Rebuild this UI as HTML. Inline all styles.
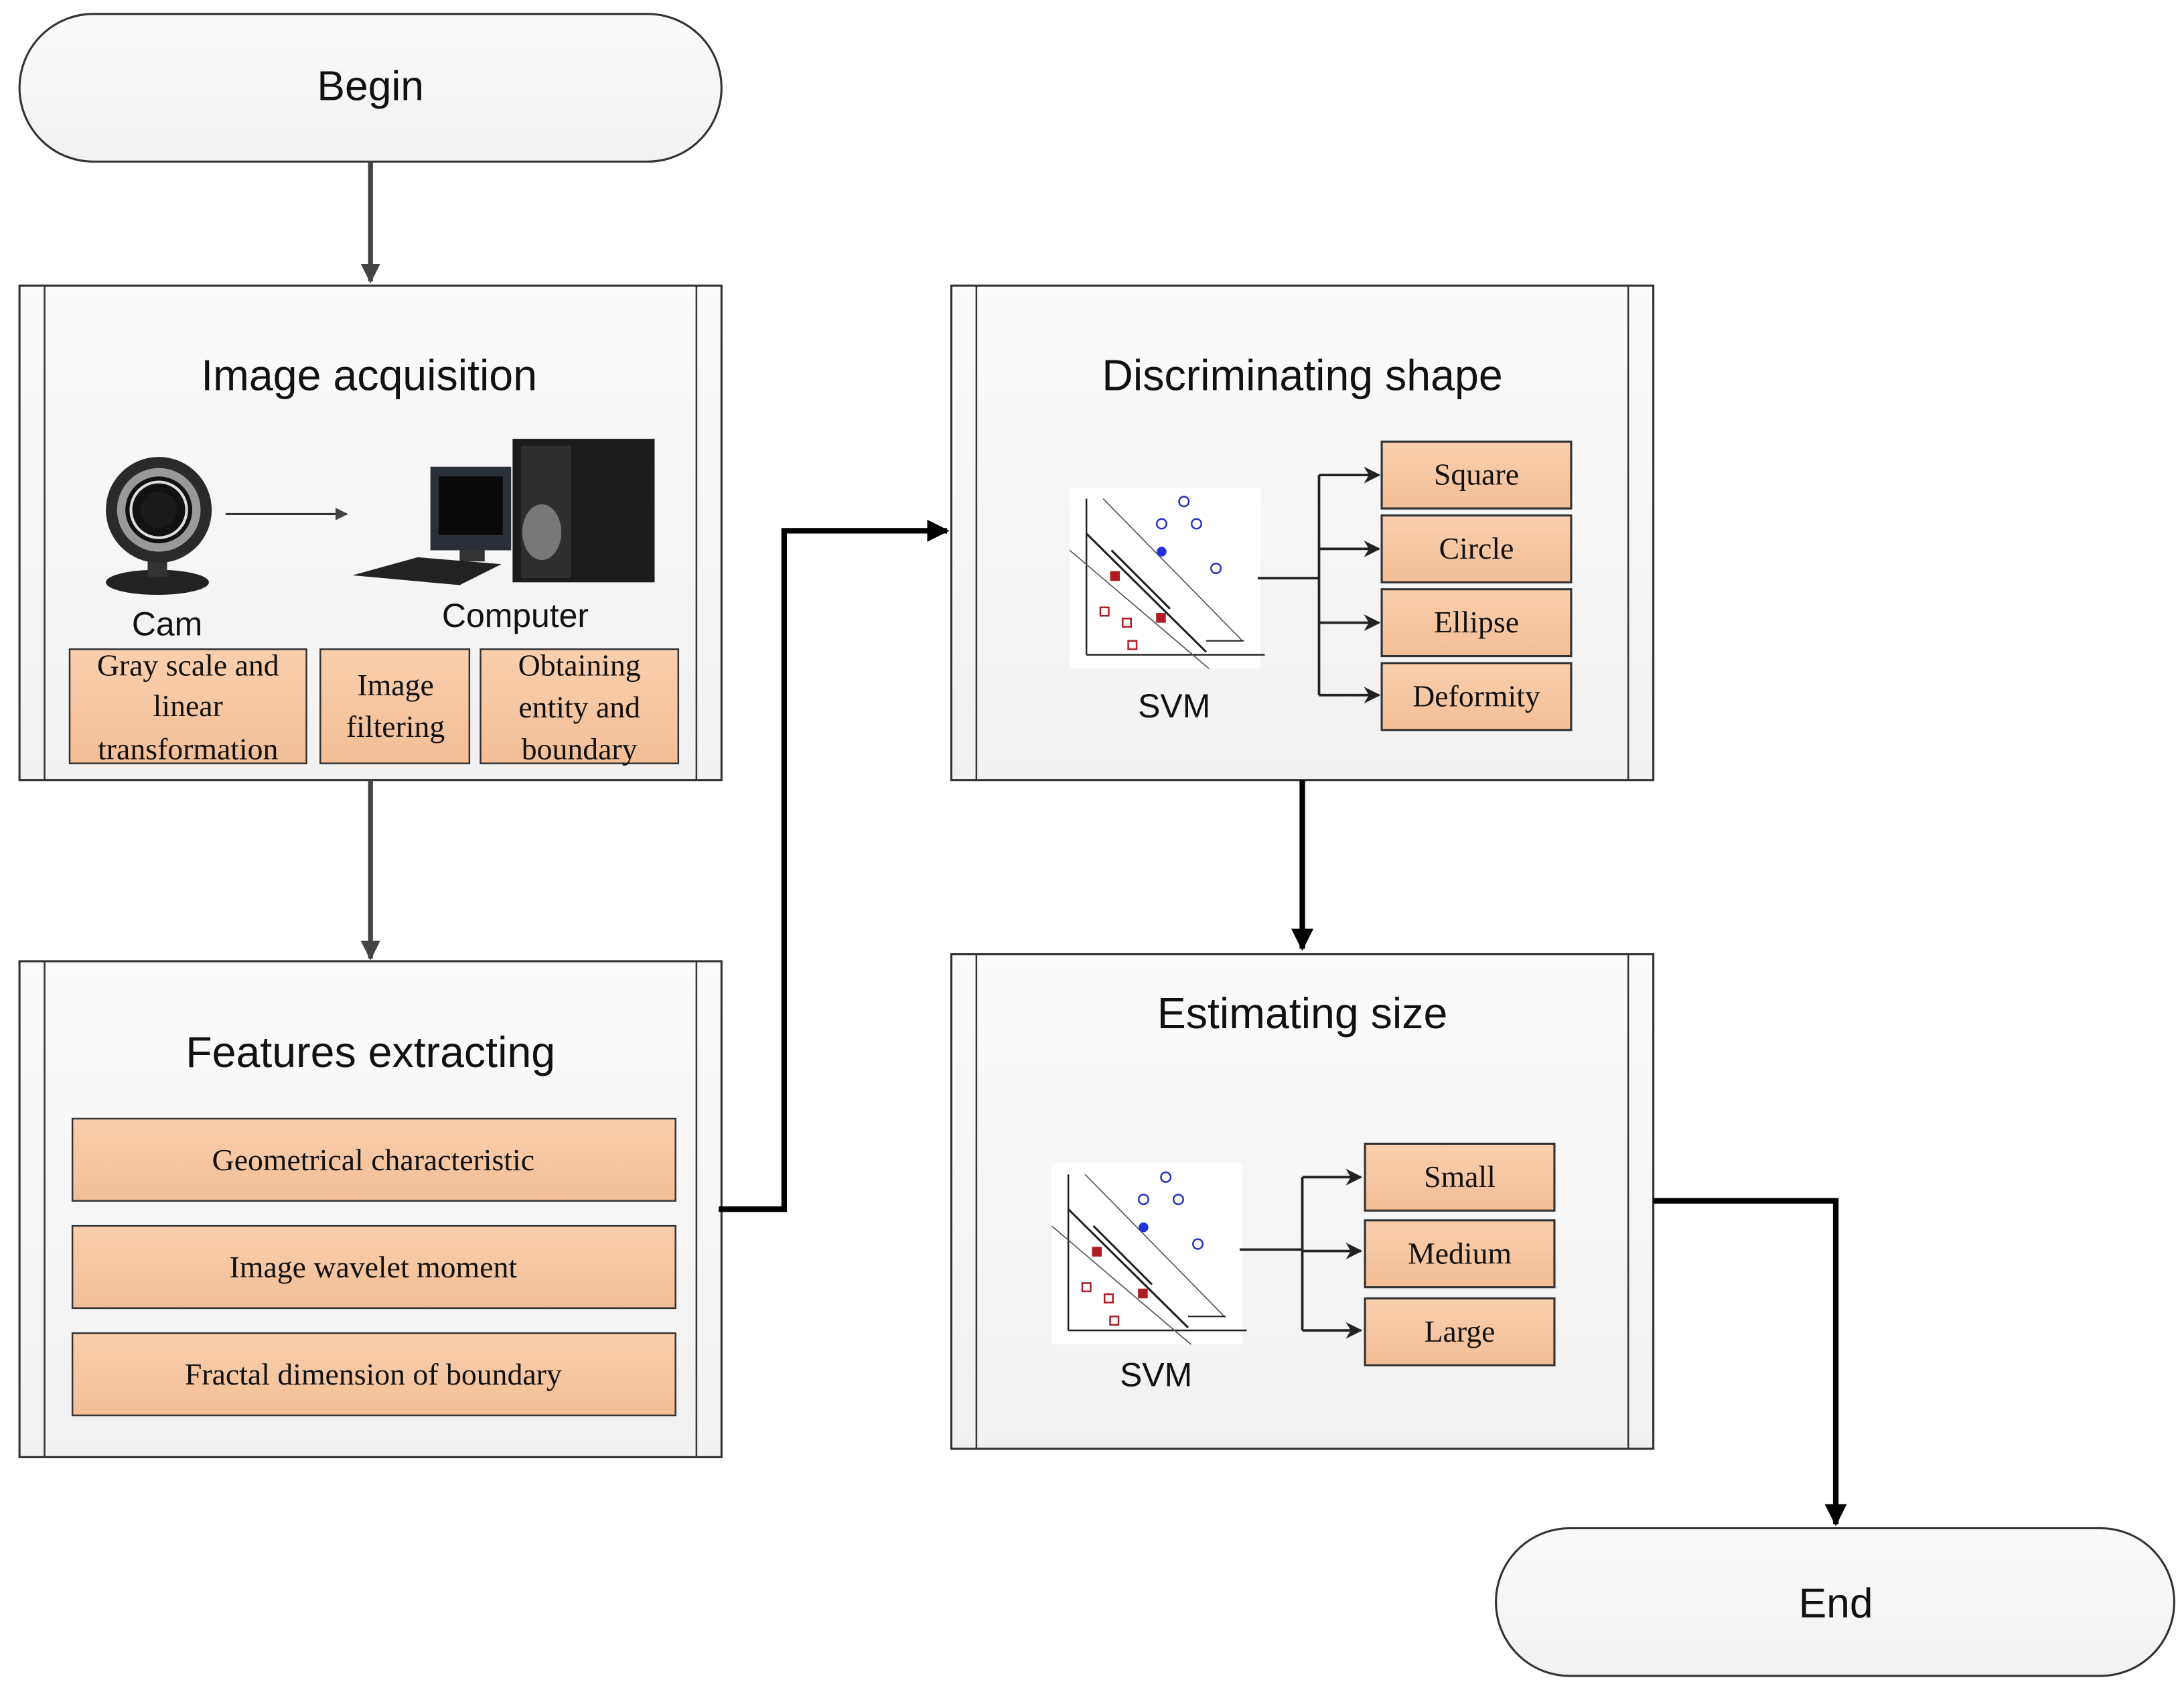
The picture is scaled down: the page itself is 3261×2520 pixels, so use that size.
<!DOCTYPE html>
<html><head><meta charset="utf-8"><style>html,body{margin:0;padding:0;background:#fff}svg{display:block}</style></head><body>
<svg width="3261" height="2520" viewBox="0 0 1568 1211.7" xmlns="http://www.w3.org/2000/svg">
<defs>
<linearGradient id="bx" x1="0" y1="0" x2="0" y2="1"><stop offset="0" stop-color="#fbfbfb"/><stop offset="1" stop-color="#f1f1f1"/></linearGradient>
<linearGradient id="or" x1="0" y1="0" x2="0" y2="1"><stop offset="0" stop-color="#f9cfae"/><stop offset="1" stop-color="#f3be96"/></linearGradient>
<marker id="ag" viewBox="0 0 10 10" markerWidth="14" markerHeight="14" refX="9" refY="5" orient="auto" markerUnits="userSpaceOnUse"><path d="M0,0 L10,5 L0,10 Z" fill="#444"/></marker>
<marker id="ag2" viewBox="0 0 10 10" markerWidth="9" markerHeight="9" refX="9" refY="5" orient="auto" markerUnits="userSpaceOnUse"><path d="M0,0 L10,5 L0,10 Z" fill="#444"/></marker>
<marker id="ab" viewBox="0 0 10 10" markerWidth="16" markerHeight="16" refX="9" refY="5" orient="auto" markerUnits="userSpaceOnUse"><path d="M0,0 L10,5 L0,10 Z" fill="#000"/></marker>
<marker id="as" viewBox="0 0 10 10" markerWidth="12" markerHeight="12" refX="9" refY="5" orient="auto" markerUnits="userSpaceOnUse"><path d="M0,0 L10,5 L0,10 L3,5 Z" fill="#222"/></marker>
<g id="svm">
<rect x="0" y="0" width="137" height="130" fill="#fff"/>
<line x1="12" y1="8" x2="12" y2="120" stroke="#222" stroke-width="1.2"/>
<line x1="12" y1="120" x2="140" y2="120" stroke="#222" stroke-width="1.2"/>
<line x1="12" y1="33" x2="98" y2="118" stroke="#222" stroke-width="1.5"/>
<line x1="0" y1="45" x2="100" y2="130" stroke="#555" stroke-width="0.8"/>
<line x1="24" y1="8" x2="124" y2="110" stroke="#555" stroke-width="0.8"/>
<line x1="30" y1="45" x2="72" y2="87" stroke="#222" stroke-width="1.5"/>
<line x1="98" y1="110" x2="125" y2="110" stroke="#222" stroke-width="1"/>
<circle cx="82" cy="10" r="3.5" fill="none" stroke="#2233bb" stroke-width="1.2"/>
<circle cx="66" cy="26" r="3.5" fill="none" stroke="#2233bb" stroke-width="1.2"/>
<circle cx="91" cy="26" r="3.5" fill="none" stroke="#2233bb" stroke-width="1.2"/>
<circle cx="105" cy="58" r="3.5" fill="none" stroke="#2233bb" stroke-width="1.2"/>
<circle cx="66" cy="46" r="3.5" fill="#2233dd"/>
<rect x="29" y="60" width="7" height="7" fill="#b01c24"/>
<rect x="62" y="90" width="7" height="7" fill="#b01c24"/>
<rect x="22" y="86" width="6" height="6" fill="none" stroke="#b01c24" stroke-width="1.2"/>
<rect x="38" y="94" width="6" height="6" fill="none" stroke="#b01c24" stroke-width="1.2"/>
<rect x="42" y="110" width="6" height="6" fill="none" stroke="#b01c24" stroke-width="1.2"/>
</g>
</defs>
<g font-family="Liberation Sans, sans-serif" fill="#111">
<rect x="14" y="10" width="504" height="106" rx="53" fill="url(#bx)" stroke="#333" stroke-width="1.5"/>
<text x="266" y="72" font-size="30" text-anchor="middle">Begin</text>
<line x1="266" y1="116" x2="266" y2="202" stroke="#444" stroke-width="3.5" marker-end="url(#ag)"/>

<rect x="14" y="205" width="504" height="355" fill="url(#bx)" stroke="#333" stroke-width="1.5"/>
<line x1="32" y1="205" x2="32" y2="560" stroke="#333" stroke-width="1.2"/>
<line x1="500" y1="205" x2="500" y2="560" stroke="#333" stroke-width="1.2"/>
<text x="265" y="280" font-size="31" text-anchor="middle">Image acquisition</text>
<ellipse cx="113" cy="418" rx="37" ry="9" fill="#222"/>
<rect x="106" y="400" width="14" height="14" fill="#333"/>
<ellipse cx="114" cy="366" rx="38" ry="38" fill="#2a2a2a"/>
<ellipse cx="114" cy="366" rx="30" ry="30" fill="#999"/>
<ellipse cx="114" cy="366" rx="24" ry="24" fill="#111"/>
<ellipse cx="114" cy="366" rx="20" ry="20" fill="none" stroke="#ddd" stroke-width="2"/>
<ellipse cx="114" cy="366" rx="13" ry="13" fill="#1a1a1a"/>
<line x1="162" y1="369" x2="249" y2="369" stroke="#333" stroke-width="1.5" marker-end="url(#ag2)"/>
<rect x="309" y="335" width="58" height="60" fill="#2b3038"/>
<rect x="315" y="342" width="46" height="42" fill="#0a0a0a"/>
<rect x="330" y="395" width="18" height="8" fill="#333"/>
<polygon points="253,413 300,400 360,405 330,420" fill="#222"/>
<rect x="368" y="315" width="102" height="103" fill="#1c1c1c"/>
<rect x="374" y="320" width="36" height="95" fill="#2e2e2e"/>
<ellipse cx="389" cy="382" rx="14" ry="20" fill="#777"/>
<text x="120" y="456" font-size="24" text-anchor="middle">Cam</text>
<text x="370" y="450" font-size="24" text-anchor="middle">Computer</text>
<g font-family="Liberation Serif, serif" font-size="22" text-anchor="middle">
<rect x="50" y="466" width="170" height="82" fill="url(#or)" stroke="#333" stroke-width="1.2"/>
<text x="135" y="485">Gray scale and</text><text x="135" y="514">linear</text><text x="135" y="545">transformation</text>
<rect x="230" y="466" width="107" height="82" fill="url(#or)" stroke="#333" stroke-width="1.2"/>
<text x="284" y="499">Image</text><text x="284" y="529">filtering</text>
<rect x="345" y="466" width="142" height="82" fill="url(#or)" stroke="#333" stroke-width="1.2"/>
<text x="416" y="485">Obtaining</text><text x="416" y="515">entity and</text><text x="416" y="545">boundary</text>
</g>
<line x1="266" y1="560" x2="266" y2="688" stroke="#444" stroke-width="3.5" marker-end="url(#ag)"/>

<rect x="14" y="690" width="504" height="356" fill="url(#bx)" stroke="#333" stroke-width="1.5"/>
<line x1="32" y1="690" x2="32" y2="1046" stroke="#333" stroke-width="1.2"/>
<line x1="500" y1="690" x2="500" y2="1046" stroke="#333" stroke-width="1.2"/>
<text x="266" y="766" font-size="31" text-anchor="middle">Features extracting</text>
<g font-family="Liberation Serif, serif" font-size="22" text-anchor="middle">
<rect x="52" y="803" width="433" height="59" fill="url(#or)" stroke="#333" stroke-width="1.2"/>
<text x="268" y="840">Geometrical characteristic</text>
<rect x="52" y="880" width="433" height="59" fill="url(#or)" stroke="#333" stroke-width="1.2"/>
<text x="268" y="917">Image wavelet moment</text>
<rect x="52" y="957" width="433" height="59" fill="url(#or)" stroke="#333" stroke-width="1.2"/>
<text x="268" y="994">Fractal dimension of boundary</text>
</g>
<polyline points="516,868 563,868 563,381 680,381" fill="none" stroke="#000" stroke-width="4" marker-end="url(#ab)"/>

<rect x="683" y="205" width="504" height="355" fill="url(#bx)" stroke="#333" stroke-width="1.5"/>
<line x1="701" y1="205" x2="701" y2="560" stroke="#333" stroke-width="1.2"/>
<line x1="1169" y1="205" x2="1169" y2="560" stroke="#333" stroke-width="1.2"/>
<text x="935" y="280" font-size="31" text-anchor="middle">Discriminating shape</text>
<use href="#svm" x="768" y="350"/>
<text x="843" y="515" font-size="24" text-anchor="middle">SVM</text>
<g stroke="#222" stroke-width="1.8" fill="none">
<line x1="903" y1="415" x2="947" y2="415"/>
<line x1="947" y1="341" x2="947" y2="499"/>
<line x1="947" y1="341" x2="990" y2="341" marker-end="url(#as)"/>
<line x1="947" y1="394" x2="990" y2="394" marker-end="url(#as)"/>
<line x1="947" y1="447" x2="990" y2="447" marker-end="url(#as)"/>
<line x1="947" y1="499" x2="990" y2="499" marker-end="url(#as)"/>
</g>
<g font-family="Liberation Serif, serif" font-size="22" text-anchor="middle">
<rect x="992" y="317" width="136" height="48" fill="url(#or)" stroke="#333" stroke-width="1.5"/><text x="1060" y="348">Square</text>
<rect x="992" y="370" width="136" height="48" fill="url(#or)" stroke="#333" stroke-width="1.5"/><text x="1060" y="401">Circle</text>
<rect x="992" y="423" width="136" height="48" fill="url(#or)" stroke="#333" stroke-width="1.5"/><text x="1060" y="454">Ellipse</text>
<rect x="992" y="476" width="136" height="48" fill="url(#or)" stroke="#333" stroke-width="1.5"/><text x="1060" y="507">Deformity</text>
</g>
<line x1="935" y1="560" x2="935" y2="681" stroke="#000" stroke-width="4" marker-end="url(#ab)"/>

<rect x="683" y="685" width="504" height="355" fill="url(#bx)" stroke="#333" stroke-width="1.5"/>
<line x1="701" y1="685" x2="701" y2="1040" stroke="#333" stroke-width="1.2"/>
<line x1="1169" y1="685" x2="1169" y2="1040" stroke="#333" stroke-width="1.2"/>
<text x="935" y="738" font-size="31" text-anchor="middle">Estimating size</text>
<use href="#svm" x="755" y="835"/>
<text x="830" y="995" font-size="24" text-anchor="middle">SVM</text>
<g stroke="#222" stroke-width="1.8" fill="none">
<line x1="890" y1="897" x2="935" y2="897"/>
<line x1="935" y1="845" x2="935" y2="955"/>
<line x1="935" y1="845" x2="977" y2="845" marker-end="url(#as)"/>
<line x1="935" y1="898" x2="977" y2="898" marker-end="url(#as)"/>
<line x1="935" y1="955" x2="977" y2="955" marker-end="url(#as)"/>
</g>
<g font-family="Liberation Serif, serif" font-size="22" text-anchor="middle">
<rect x="980" y="821" width="136" height="48" fill="url(#or)" stroke="#333" stroke-width="1.5"/><text x="1048" y="852">Small</text>
<rect x="980" y="876" width="136" height="48" fill="url(#or)" stroke="#333" stroke-width="1.5"/><text x="1048" y="907">Medium</text>
<rect x="980" y="932" width="136" height="48" fill="url(#or)" stroke="#333" stroke-width="1.5"/><text x="1048" y="963">Large</text>
</g>
<polyline points="1187,862 1318,862 1318,1094" fill="none" stroke="#000" stroke-width="4" marker-end="url(#ab)"/>

<rect x="1074" y="1097" width="487" height="106" rx="53" fill="url(#bx)" stroke="#333" stroke-width="1.5"/>
<text x="1318" y="1161" font-size="30" text-anchor="middle">End</text>
</g>
</svg>
</body></html>
